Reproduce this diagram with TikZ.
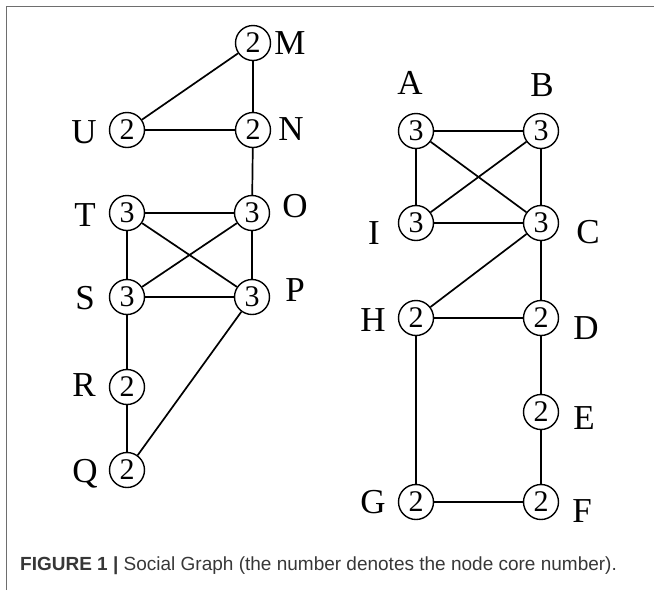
\documentclass[tikz,border=0pt]{standalone}
\usepackage{fontspec}
\setmainfont{Liberation Serif}
\setsansfont{Liberation Sans}
\usetikzlibrary{positioning}
\definecolor{framegray}{RGB}{110,110,110}
\definecolor{captiongray}{RGB}{55,55,55}

\begin{document}
\begin{tikzpicture}[
    x=1pt, y=-1pt,
    vertex/.style={
        circle,
        draw=black,
        line width=1.4pt,
        minimum size=35pt,
        inner sep=0pt,
        font=\fontsize{30}{30}\selectfont
    },
    vlabel/.style={
        inner sep=0pt,
        font=\fontsize{35}{35}\selectfont
    },
    link/.style={
        line width=1.7pt,
        black
    },
    captiontext/.style={
        anchor=base west,
        inner sep=0pt,
        font=\sffamily\fontsize{19}{19}\selectfont,
        text=captiongray
    }
]

\useasboundingbox (0,0) rectangle (654,590);

% Frame
\draw[framegray, line width=1.5pt] (6.5,590) -- (6.5,6.5) -- (654,6.5);

% Left graph
\node[vertex] (m) at (253,43) {2};
\node[vertex] (u) at (127,130) {2};
\node[vertex] (n) at (253,130) {2};
\node[vertex] (t) at (127,213) {3};
\node[vertex] (o) at (252,213) {3};
\node[vertex] (s) at (127,297) {3};
\node[vertex] (p) at (252,297) {3};
\node[vertex] (r) at (127,387) {2};
\node[vertex] (q) at (127,470) {2};

\node[vlabel] (lblM) at (290,43) {M};
\node[vlabel] (lblN) at (291,129) {N};
\node[vlabel] (lblU) at (84,132) {U};
\node[vlabel] (lblT) at (85,215) {T};
\node[vlabel] (lblO) at (295,206) {O};
\node[vlabel] (lblS) at (85,298) {S};
\node[vlabel] (lblP) at (295,290) {P};
\node[vlabel] (lblR) at (84,385) {R};
\node[vlabel] (lblQ) at (85,474) {Q};

% Right graph
\node[vertex] (a) at (416,131) {3};
\node[vertex] (b) at (541,131) {3};
\node[vertex] (i) at (416,223) {3};
\node[vertex] (c) at (541,223) {3};
\node[vertex] (h) at (416,318) {2};
\node[vertex] (d) at (541,318) {2};
\node[vertex] (e) at (541,412) {2};
\node[vertex] (g) at (416,502) {2};
\node[vertex] (f) at (541,502) {2};

\node[vlabel] (lblA) at (410,83) {A};
\node[vlabel] (lblB) at (542,85) {B};
\node[vlabel] (lblI) at (374,233) {I};
\node[vlabel] (lblC) at (588,232) {C};
\node[vlabel] (lblH) at (373,320) {H};
\node[vlabel] (lblD) at (586,328) {D};
\node[vlabel] (lblE) at (584,418) {E};
\node[vlabel] (lblG) at (373,502) {G};
\node[vlabel] (lblF) at (582,511) {F};

% Connections, left
\draw[link] (m) -- (u);
\draw[link] (m) -- (n);
\draw[link] (u) -- (n);
\draw[link] (n) -- (o);
\draw[link] (t) -- (o);
\draw[link] (t) -- (s);
\draw[link] (t) -- (p);
\draw[link] (o) -- (s);
\draw[link] (o) -- (p);
\draw[link] (s) -- (p);
\draw[link] (s) -- (r);
\draw[link] (r) -- (q);
\draw[link] (q) -- (p);

% Connections, right
\draw[link] (a) -- (b);
\draw[link] (a) -- (i);
\draw[link] (a) -- (c);
\draw[link] (b) -- (i);
\draw[link] (b) -- (c);
\draw[link] (i) -- (c);
\draw[link] (c) -- (h);
\draw[link] (c) -- (d);
\draw[link] (h) -- (d);
\draw[link] (h) -- (g);
\draw[link] (d) -- (e);
\draw[link] (e) -- (f);
\draw[link] (g) -- (f);

% Caption
\node[captiontext] (caption) at (20,570) {\textbf{FIGURE 1 |} Social Graph (the number denotes the node core number).};

\end{tikzpicture}
\end{document}
